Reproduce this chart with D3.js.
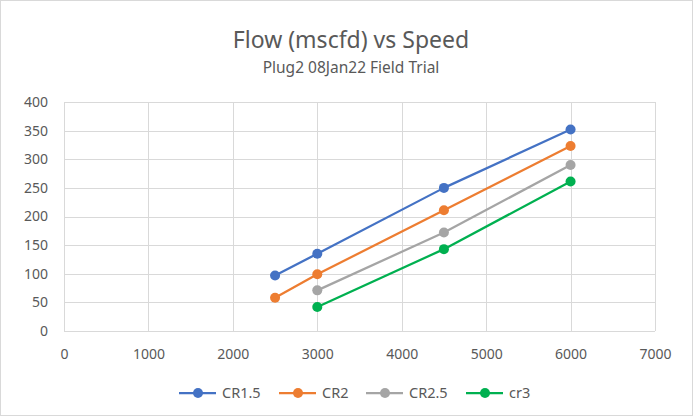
<!DOCTYPE html>
<html lang="en">
<head>
    <meta charset="UTF-8">
    <title>Flow vs Speed</title>
    <script src="https://d3js.org/d3.v7.min.js"></script>
    <style>
        body { margin: 0; background: #fff; }
        text { font-family: "Noto Sans", "Open Sans", sans-serif; }
    </style>
</head>
<body>
<svg width="693" height="416"></svg>
<script>
    // chart data
    const seriesNames = ["CR1.5", "CR2", "CR2.5", "cr3"];
    const seriesColors = ["#4472C4", "#ED7D31", "#A5A5A5", "#00B050"];
    const speedCR15 = [2500, 3000, 4500, 6000];
    const flowCR15 = [97, 135, 250, 352];
    const speedCR2 = [2500, 3000, 4500, 6000];
    const flowCR2 = [58, 99, 211, 323];
    const speedCR25 = [3000, 4500, 6000];
    const flowCR25 = [71, 172, 290];
    const speedCR3 = [3000, 4500, 6000];
    const flowCR3 = [42, 143, 261];
    const xTicks = [0, 1000, 2000, 3000, 4000, 5000, 6000, 7000];
    const yTicks = [0, 50, 100, 150, 200, 250, 300, 350, 400];

    const series = [
        {name: seriesNames[0], color: seriesColors[0], pts: d3.zip(speedCR15, flowCR15)},
        {name: seriesNames[1], color: seriesColors[1], pts: d3.zip(speedCR2, flowCR2)},
        {name: seriesNames[2], color: seriesColors[2], pts: d3.zip(speedCR25, flowCR25)},
        {name: seriesNames[3], color: seriesColors[3], pts: d3.zip(speedCR3, flowCR3)}
    ];

    let svg = d3.select("svg");

    // outer border
    svg.append("rect")
        .attr("x", 0.5).attr("y", 0.5)
        .attr("width", 692).attr("height", 415)
        .attr("fill", "#fff").attr("stroke", "#d9d9d9");

    const plotLeft = 64, plotRight = 655, plotTop = 102, plotBottom = 331;
    const x = d3.scaleLinear().domain([0, 7000]).range([plotLeft, plotRight]);
    const y = d3.scaleLinear().domain([0, 400]).range([plotBottom, plotTop]);

    // gridlines
    let grid = svg.append("g");
    grid.selectAll("line.h").data(yTicks).enter().append("line")
        .attr("x1", plotLeft).attr("x2", plotRight)
        .attr("y1", d => Math.round(y(d)) + 0.5).attr("y2", d => Math.round(y(d)) + 0.5)
        .attr("stroke", "#d9d9d9").attr("stroke-width", 1);
    grid.selectAll("line.v").data(xTicks).enter().append("line")
        .attr("y1", plotTop).attr("y2", plotBottom)
        .attr("x1", d => Math.round(x(d)) + 0.5).attr("x2", d => Math.round(x(d)) + 0.5)
        .attr("stroke", "#d9d9d9").attr("stroke-width", 1);

    // axes
    let xAxis = svg.append("g")
        .attr("transform", `translate(0,${plotBottom + 15})`)
        .call(d3.axisBottom(x).tickValues(xTicks).tickSize(0).tickFormat(d3.format("d")));
    xAxis.select(".domain").remove();
    xAxis.selectAll("text").attr("fill", "#595959").attr("font-size", "14px");

    let yAxis = svg.append("g")
        .attr("transform", `translate(${plotLeft - 13},0)`)
        .call(d3.axisLeft(y).tickValues(yTicks).tickSize(0).tickFormat(d3.format("d")));
    yAxis.select(".domain").remove();
    yAxis.selectAll("text").attr("fill", "#595959").attr("font-size", "14px");

    // lines and markers
    const line = d3.line().x(d => x(d[0])).y(d => y(d[1]));
    series.forEach(function (s) {
        svg.append("path")
            .attr("d", line(s.pts))
            .attr("fill", "none")
            .attr("stroke", s.color)
            .attr("stroke-width", 2.25)
            .attr("stroke-linejoin", "round");
        svg.append("g").selectAll("circle").data(s.pts).enter().append("circle")
            .attr("cx", d => x(d[0])).attr("cy", d => y(d[1]))
            .attr("r", 5).attr("fill", s.color);
    });

    // title
    svg.append("text").attr("x", 351).attr("y", 48)
        .attr("text-anchor", "middle").attr("font-size", "23px").attr("fill", "#595959")
        .text("Flow (mscfd) vs Speed");
    svg.append("text").attr("x", 351).attr("y", 73)
        .attr("text-anchor", "middle").attr("font-size", "15.5px").attr("fill", "#595959")
        .text("Plug2 08Jan22 Field Trial");

    // legend
    const legendX = [179, 279, 366, 466];
    const ly = 393;
    let legend = svg.append("g");
    series.forEach(function (s, i) {
        let g = legend.append("g").attr("transform", `translate(${legendX[i]},${ly})`);
        g.append("line").attr("x1", 0).attr("x2", 37).attr("y1", 0).attr("y2", 0)
            .attr("stroke", s.color).attr("stroke-width", 2.25);
        g.append("circle").attr("cx", 19).attr("cy", 0).attr("r", 5).attr("fill", s.color);
        g.append("text").attr("x", 43).attr("y", 5)
            .attr("font-size", "14.5px").attr("fill", "#595959").text(s.name);
    });
</script>
</body>
</html>
